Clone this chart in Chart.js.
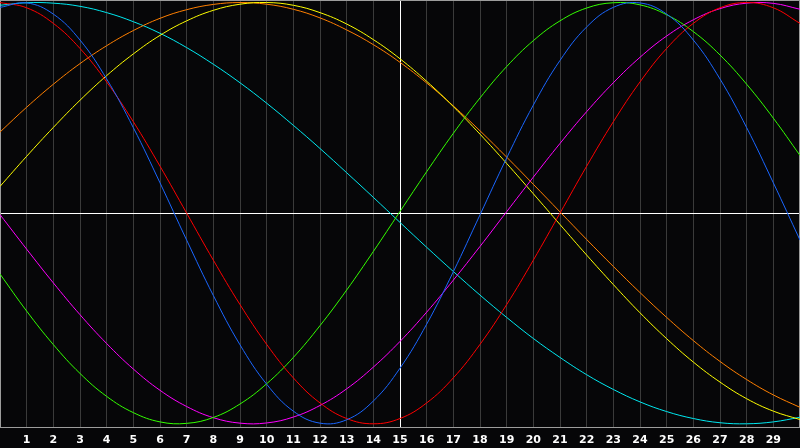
<!DOCTYPE html>
<html><head><meta charset="utf-8">
<script src="https://cdn.jsdelivr.net/npm/chart.js@4/dist/chart.umd.min.js"></script>
<style>html,body{margin:0;padding:0;background:#060608;overflow:hidden;}#c{display:block;}</style>
</head><body><canvas id="c" width="800" height="448"></canvas>
<script>
const days = [0,1,2,3,4,5,6,7,8,9,10,11,12,13,14,15,16,17,18,19,20,21,22,23,24,25,26,27,28,29,30];
const tickLabels = ["","1","2","3","4","5","6","7","8","9","10","11","12","13","14","15","16","17","18","19","20","21","22","23","24","25","26","27","28","29",""];

const physical = [0.977,0.998,0.945,0.822,0.637,0.406,0.144,-0.128,-0.391,-0.625,-0.812,-0.940,-0.997,-0.981,-0.892,-0.736,-0.527,-0.278,-0.008,0.262,0.513,0.725,0.884,0.977,0.998,0.945,0.822,0.637,0.406,0.144,-0.128];
const emotional = [1,0.975,0.901,0.782,0.623,0.434,0.223,0,-0.223,-0.434,-0.623,-0.782,-0.901,-0.975,-1,-0.975,-0.901,-0.782,-0.623,-0.434,-0.223,0,0.223,0.434,0.623,0.782,0.901,0.975,1,0.975,0.901];
const intellectual = [-0.289,-0.465,-0.624,-0.761,-0.870,-0.947,-0.991,-0.998,-0.970,-0.906,-0.810,-0.685,-0.534,-0.365,-0.182,0.008,0.197,0.379,0.547,0.696,0.819,0.913,0.974,0.999,0.989,0.942,0.862,0.751,0.612,0.451,0.274];
const intuitive = [-0.007,-0.171,-0.331,-0.482,-0.619,-0.740,-0.841,-0.918,-0.971,-0.997,-0.996,-0.968,-0.913,-0.834,-0.731,-0.609,-0.470,-0.318,-0.158,0.007,0.171,0.331,0.482,0.619,0.740,0.841,0.918,0.971,0.997,0.996,0.968];
const aesthetic = [0.127,0.270,0.407,0.536,0.653,0.756,0.844,0.913,0.963,0.992,1.000,0.987,0.952,0.898,0.824,0.733,0.626,0.506,0.375,0.236,0.092,-0.054,-0.199,-0.339,-0.473,-0.596,-0.707,-0.802,-0.881,-0.940,-0.980];
const awareness = [0.385,0.503,0.612,0.710,0.795,0.867,0.925,0.966,0.991,1.000,0.992,0.968,0.927,0.870,0.800,0.716,0.618,0.509,0.391,0.266,0.137,0.006,-0.125,-0.253,-0.377,-0.495,-0.605,-0.704,-0.790,-0.863,-0.922];
const spiritual = [0.987,0.999,0.997,0.982,0.952,0.909,0.854,0.786,0.707,0.619,0.522,0.417,0.307,0.192,0.075,-0.044,-0.162,-0.277,-0.389,-0.495,-0.595,-0.685,-0.767,-0.837,-0.896,-0.942,-0.975,-0.995,-1.000,-0.991,-0.969];

const seriesNames = ["Physical","Emotional","Intellectual","Intuitive","Aesthetic","Awareness","Spiritual"];
const seriesValues = [physical, emotional, intellectual, intuitive, aesthetic, awareness, spiritual];
const seriesColors = ["#1a66ff","#ff0000","#33ff00","#ff00ff","#ffff00","#ff7f00","#00e8f0"];

const bgPlugin = {
  id: 'bg',
  beforeDraw(chart) {
    const c = chart.ctx;
    c.save();
    c.fillStyle = '#060608';
    c.fillRect(0, 0, chart.width, chart.height);
    c.restore();
  },
  beforeDatasetsDraw(chart) {
    const a = chart.chartArea, c = chart.ctx;
    c.save();
    c.strokeStyle = '#9c9c9c';
    c.lineWidth = 1;
    c.strokeRect(a.left + 0.5, a.top + 0.5, a.right - a.left - 1, a.bottom - a.top - 1);
    c.restore();
  }
};

new Chart(document.getElementById('c'), {
  type: 'line',
  data: {
    labels: tickLabels,
    datasets: seriesNames.map((n, i) => ({
      label: n,
      data: seriesValues[i],
      borderColor: seriesColors[i],
      borderWidth: 1,
      pointRadius: 0,
      pointHoverRadius: 0,
      pointHitRadius: 0,
      fill: false,
      tension: 0.4
    }))
  },
  options: {
    responsive: false,
    animation: false,
    devicePixelRatio: 1,
    layout: { padding: 0, autoPadding: false },
    plugins: { legend: { display: false }, tooltip: { enabled: false } },
    scales: {
      x: {
        type: 'category',
        offset: false,
        grid: {
          color: ctx => ctx.index === 15 ? '#ffffff' : ((ctx.index === 0 || ctx.index === 30) ? 'rgba(0,0,0,0)' : '#3a3a3a'),
          lineWidth: 1,
          drawTicks: false,
          tickLength: 0
        },
        border: { display: false },
        ticks: {
          color: '#ffffff',
          font: { family: 'DejaVu Sans', weight: 'bold', size: 11 },
          autoSkip: false,
          maxRotation: 0,
          minRotation: 0,
          padding: 6
        },
        afterFit: a => { a.height = 20; a.paddingLeft = 0; a.paddingRight = 0; }
      },
      y: {
        min: -1.02,
        max: 1.012,
        ticks: { display: false },
        grid: {
          color: ctx => (ctx.tick && ctx.tick.value === 0) ? '#ffffff' : 'rgba(0,0,0,0)',
          drawTicks: false,
          tickLength: 0
        },
        border: { display: false },
        afterBuildTicks: a => { a.ticks = [{ value: 0 }]; },
        afterFit: a => { a.width = 0; a.paddingTop = 0; a.paddingBottom = 0; }
      }
    }
  },
  plugins: [bgPlugin]
});
</script>
</body></html>
